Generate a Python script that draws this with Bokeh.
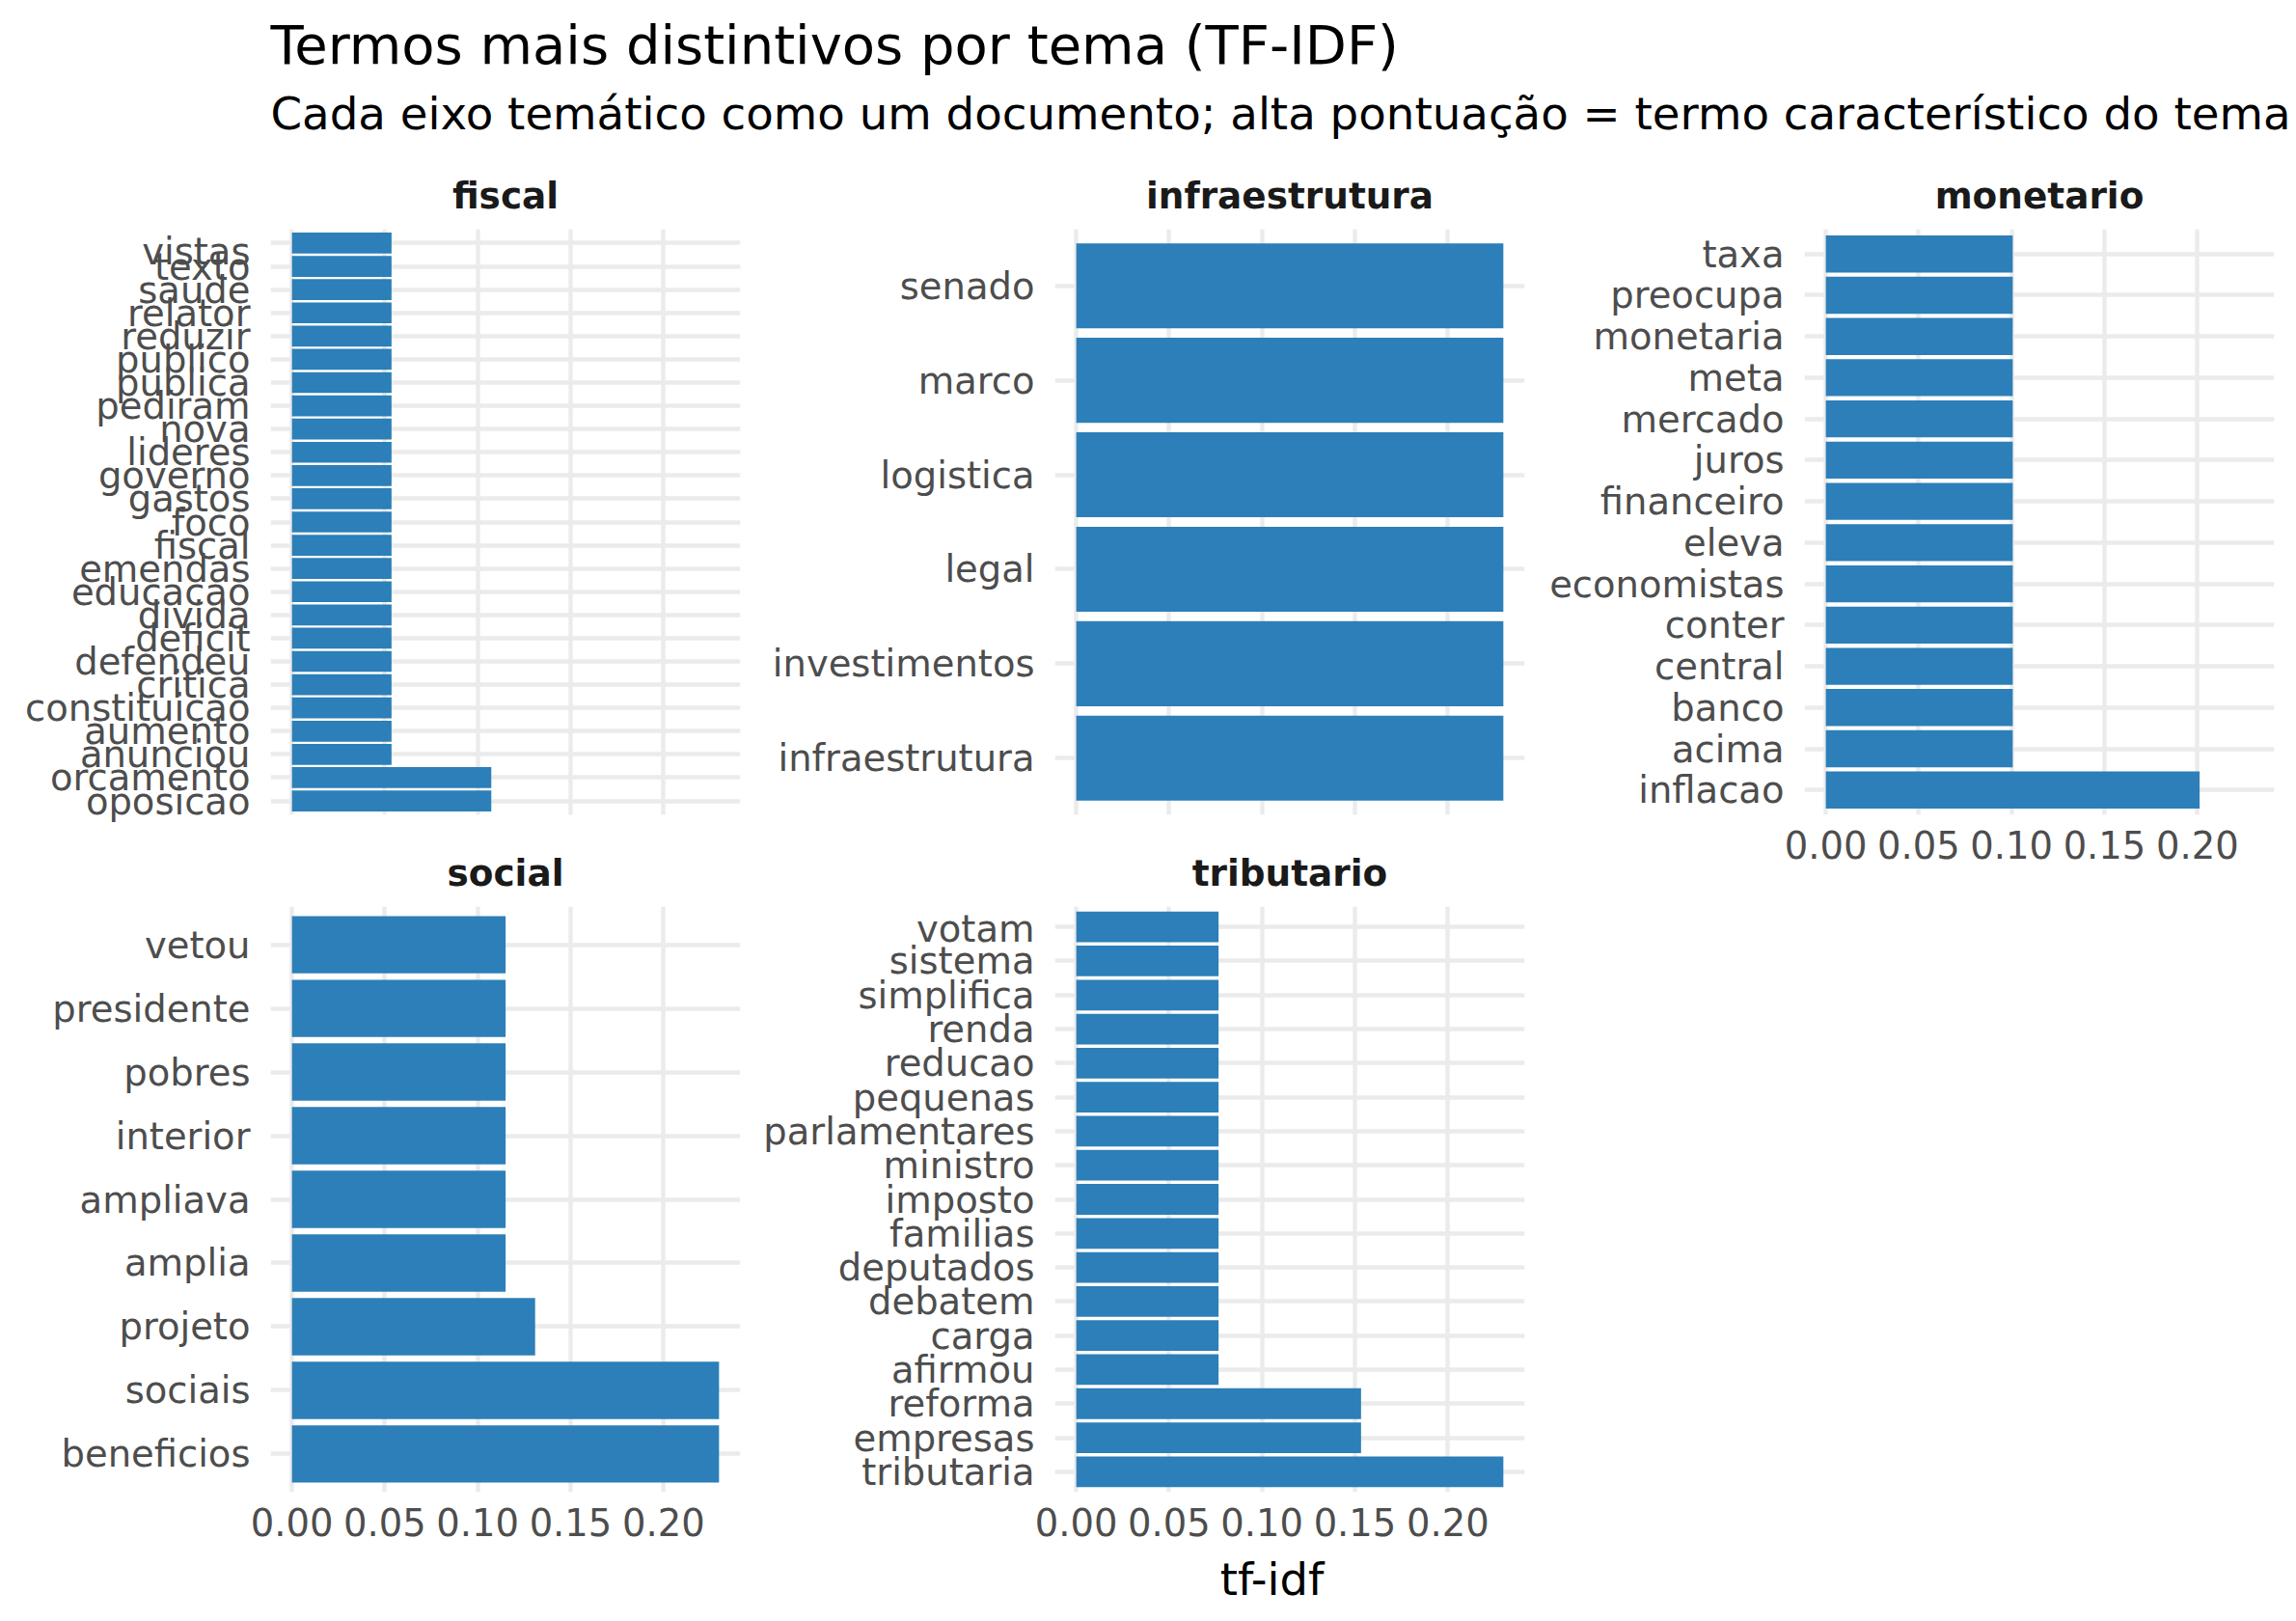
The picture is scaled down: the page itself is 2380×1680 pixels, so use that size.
from bokeh.plotting import figure
from bokeh.models import (FactorRange, Range1d, FixedTicker, NumeralTickFormatter,
                          ColumnDataSource, Grid)
from bokeh.layouts import column, row
from bokeh.embed import file_html
from bokeh.resources import INLINE
from bokeh.core.properties import value

# ---------------- data ----------------
TITLE = "Termos mais distintivos por tema (TF-IDF)"
SUBTITLE = "Cada eixo temático como um documento; alta pontuação = termo característico do tema"
X_LABEL = "tf-idf"
X_TICKS = [0.0, 0.05, 0.10, 0.15, 0.20]

themes = ["fiscal", "infraestrutura", "monetario", "social", "tributario"]

# terms listed bottom -> top, as drawn
fiscal_terms = ["oposicao", "orcamento", "anunciou", "aumento", "constituicao", "critica",
                "defendeu", "deficit", "divida", "educacao", "emendas", "fiscal", "foco",
                "gastos", "governo", "lideres", "nova", "pediram", "publica", "publico",
                "reduzir", "relator", "saude", "texto", "vistas"]
fiscal_tfidf = [0.1073, 0.1073] + [0.0536] * 23

infra_terms = ["infraestrutura", "investimentos", "legal", "logistica", "marco", "senado"]
infra_tfidf = [0.2299, 0.2299, 0.2299, 0.2299, 0.2299, 0.2299]

monetario_terms = ["inflacao", "acima", "banco", "central", "conter", "economistas", "eleva",
                   "financeiro", "juros", "mercado", "meta", "monetaria", "preocupa", "taxa"]
monetario_tfidf = [0.2012] + [0.1006] * 13

social_terms = ["beneficios", "sociais", "projeto", "amplia", "ampliava", "interior",
                "pobres", "presidente", "vetou"]
social_tfidf = [0.2299, 0.2299, 0.1309, 0.1150, 0.1150, 0.1150, 0.1150, 0.1150, 0.1150]

tributario_terms = ["tributaria", "empresas", "reforma", "afirmou", "carga", "debatem",
                    "deputados", "familias", "imposto", "ministro", "parlamentares",
                    "pequenas", "reducao", "renda", "simplifica", "sistema", "votam"]
tributario_tfidf = [0.2299, 0.1533, 0.1533] + [0.0766] * 14

# ---------------- style ----------------
FONT = "DejaVu Sans"
BAR = "#2C7FB8"
GRID = "#EBEBEB"
GRID_W = 4.4
TICK_COL = "#4D4D4D"
STRIP_COL = "#1A1A1A"
TICK_SIZE = "38.5px"
STRIP_PX = 37.4
X_MIN, X_MAX = -0.0115, 0.2414
FRAME_H = 607
FRAME_W = 487
BASE_FIX = 0.32  # glyph text sits this many em lower than the requested baseline


def make_panel(terms, vals, bl, br, bb, show_x):
    src = ColumnDataSource(dict(term=terms, tfidf=vals))
    p = figure(width=bl + FRAME_W + br, height=FRAME_H + bb,
               y_range=FactorRange(factors=terms, range_padding=0.1,
                                   range_padding_units="absolute"),
               x_range=Range1d(X_MIN, X_MAX),
               x_axis_location="below" if show_x else None,
               title_location=None,
               output_backend="svg", toolbar_location=None, tools="",
               min_border_left=bl, min_border_right=br,
               min_border_top=0, min_border_bottom=bb)
    p.hbar(y="term", left=0, right="tfidf", height=0.9, source=src,
           fill_color=BAR, line_color=None)
    p.outline_line_color = None
    p.background_fill_color = "white"
    p.border_fill_color = "white"

    ya = p.yaxis[0]
    ya.axis_line_color = None
    ya.major_tick_line_color = None
    ya.major_tick_out = 0
    ya.major_tick_in = 0
    ya.major_label_standoff = 21
    ya.major_label_text_font = FONT
    ya.major_label_text_font_size = TICK_SIZE
    ya.major_label_text_color = TICK_COL
    p.ygrid.grid_line_color = GRID
    p.ygrid.grid_line_width = GRID_W

    if show_x:
        xa = p.xaxis[0]
        xa.ticker = FixedTicker(ticks=X_TICKS)
        xa.formatter = NumeralTickFormatter(format="0.00")
        xa.axis_line_color = None
        xa.major_tick_line_color = None
        xa.minor_tick_line_color = None
        xa.major_tick_out = 0
        xa.major_tick_in = 0
        xa.major_label_standoff = 16
        xa.major_label_text_font = FONT
        xa.major_label_text_font_size = TICK_SIZE
        xa.major_label_text_color = TICK_COL
        p.xgrid.ticker = FixedTicker(ticks=X_TICKS)
        p.xgrid.grid_line_color = GRID
        p.xgrid.grid_line_width = GRID_W
    else:
        p.add_layout(Grid(dimension=0, ticker=FixedTicker(ticks=X_TICKS),
                          grid_line_color=GRID, grid_line_width=GRID_W), "center")
    return p


def blank_fig(width, height, bl=0, br=0):
    # a blank figure whose frame coordinates are pixels from the frame's top-left
    f = figure(width=width, height=height,
               x_range=Range1d(0, width - bl - br), y_range=Range1d(height, 0),
               x_axis_location=None, y_axis_location=None, title_location=None,
               output_backend="svg", toolbar_location=None, tools="",
               min_border=0, min_border_left=bl, min_border_right=br,
               min_border_top=0, min_border_bottom=0)
    f.outline_line_color = None
    f.grid.visible = False
    return f


def add_text(f, x, baseline, txt, size_px, color, align="left", bold=False):
    f.text(x=[x], y=[baseline - BASE_FIX * size_px], text=[txt], text_font=value(FONT),
           text_font_size=f"{size_px}px", text_color=color,
           text_font_style="bold" if bold else "normal",
           text_baseline="alphabetic", text_align=align)


def strip_fig(name, c, height, baseline):
    f = blank_fig(col_w(c), height, c[1], c[2])
    add_text(f, FRAME_W / 2, baseline, name, STRIP_PX, STRIP_COL, align="center", bold=True)
    return f


# column geometry (page pixels): figure left, left border, right border
C1 = (0, 280, 13)
C2 = (780, 313, 20)
C3 = (1600, 270, 23)


def col_w(c):
    return c[1] + FRAME_W + c[2]


# header (title + subtitle), page rows [0, 160)
header = blank_fig(2380, 160)
add_text(header, 280, 64, TITLE, 56, "#000000")
add_text(header, 280, 132, SUBTITLE, 46.7, "#000000")

# row 1: strips [160, 237), panels from 237
s1 = strip_fig(themes[0], C1, 77, 54)
s2 = strip_fig(themes[1], C2, 77, 54)
s3 = strip_fig(themes[2], C3, 77, 54)
f1 = make_panel(fiscal_terms, fiscal_tfidf, C1[1], C1[2], 26, False)
f2 = make_panel(infra_terms, infra_tfidf, C2[1], C2[2], 26, False)
f3 = make_panel(monetario_terms, monetario_tfidf, C3[1], C3[2], 64, True)

# row 2: strips [870, 939), panels from 939 to 1546, axis to 1608
s4 = strip_fig(themes[3], C1, 69, 46)
s5 = strip_fig(themes[4], C2, 69, 46)
f4 = make_panel(social_terms, social_tfidf, C1[1], C1[2], 62, True)
f5 = make_panel(tributario_terms, tributario_tfidf, C2[1], C2[2], 62, True)

# footer (x axis title), page rows [1608, 1680)
footer = blank_fig(2380, 72)
add_text(footer, 1318, 43, X_LABEL, 46.5, "#000000", align="center")

layout = column(header,
                row(column(s1, f1, s4, f4), column(s2, f2, s5, f5), column(s3, f3)),
                footer)

open("out.html", "w").write(file_html(layout, INLINE, title="tf-idf"))
